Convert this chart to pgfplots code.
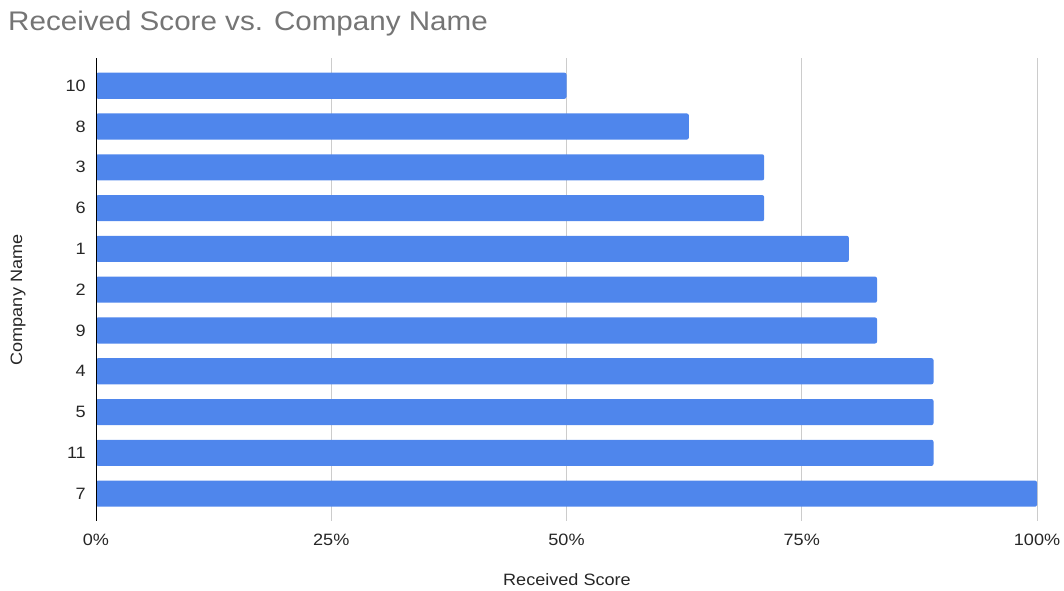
\documentclass[border=0pt]{standalone}
\usepackage{fontspec}
\setmainfont{Liberation Sans}[FakeStretch=1.1]
\usepackage{pgfplots}
\pgfplotsset{compat=1.18}
\definecolor{barblue}{RGB}{79,134,236}
\definecolor{titlegray}{RGB}{117,117,117}
\definecolor{gridgray}{RGB}{204,204,204}
\begin{document}
\begin{tikzpicture}[x=1bp,y=1bp]
\useasboundingbox (0,0) rectangle (1064,591);
\begin{axis}[
  at={(96bp,70bp)}, anchor=south west,
  scale only axis, width=941bp, height=463bp,
  xmin=0, xmax=100, ymin=-0.67, ymax=10.68,
  xbar, bar width=0.64,
  xtick={0,25,50,75,100}, xticklabels={0\%,25\%,50\%,75\%,100\%},
  ytick={0,...,10}, yticklabels={7,11,5,4,9,2,1,6,3,8,10},
  axis line style={draw=none},
  major tick length=0pt,
  xmajorgrids, major grid style={gridgray, line width=0.8bp},
  tick label style={font=\fontsize{16.5}{19}\selectfont, text=black!85},
  xticklabel style={inner sep=0pt, yshift=-13bp},
  yticklabel style={inner sep=0pt, xshift=-10bp},
  clip=false,
]
\addplot[fill=barblue, draw=none, rounded corners=2bp] coordinates {
  (100,0) (89,1) (89,2) (89,3) (83,4) (83,5) (80,6) (71,7) (71,8) (63,9) (50,10)
};
\draw[black, line width=0.9bp] (axis cs:0,-0.67) -- (axis cs:0,10.68);
\end{axis}
\node[anchor=base west, text=titlegray, font=\fontsize{27}{31}\selectfont, inner sep=0pt] at (8,560) {Received Score vs. Company Name};
\node[anchor=base, font=\fontsize{16.5}{19}\selectfont, inner sep=0pt, text=black!85] at (567,5) {Received Score};
\node[rotate=90, font=\fontsize{16.5}{19}\selectfont, inner sep=0pt, text=black!85] at (18,291) {Company Name};
\end{tikzpicture}
\end{document}
